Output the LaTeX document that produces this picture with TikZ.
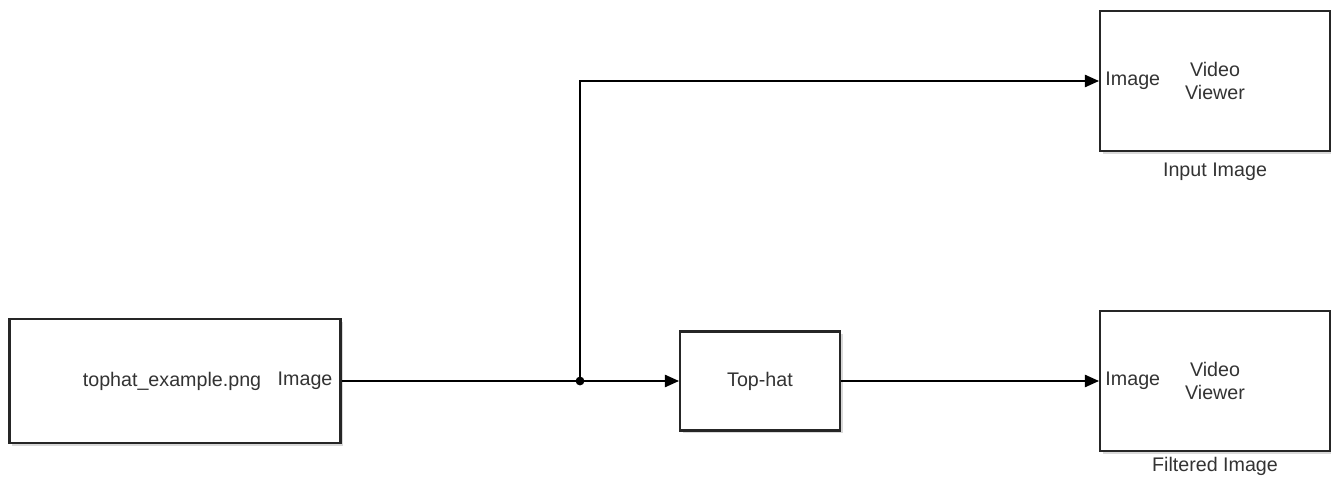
\documentclass[tikz,border=0pt]{standalone}
\usepackage{fontspec}
\setmainfont{Liberation Sans}
\usetikzlibrary{arrows.meta,positioning,shadows}
\definecolor{ink}{HTML}{333333}

\begin{document}
\begin{tikzpicture}[
  x=0.02cm, y=-0.02cm,
  font=\fontsize{11.2}{13}\selectfont,
  >={Triangle[length=8pt,width=7pt]},
  block/.style={draw=black!85,line width=1.2pt,fill=white,text=ink,
    inner sep=0pt,align=center,
    drop shadow={shadow xshift=1.5pt,shadow yshift=-1.5pt,opacity=0.3}},
  port/.style={text=ink,inner sep=0pt},
  wire/.style={line width=0.9pt,draw=black}
]
  \useasboundingbox (0,0) rectangle (1331,479);

  % blocks
  \node[block,minimum width=6.62cm,minimum height=2.48cm] (src) at (175,381) {};
  \node[port,anchor=east] (srcout) at ([xshift=-5pt]src.east) {Image};
  \node[port,anchor=east] (srcname) at ([xshift=-9pt]srcout.west) {tophat\_example.png};

  \node[block,minimum width=3.2cm,minimum height=1.98cm] (tophat) at (760,381)
    {Top-hat};

  \node[block,minimum width=4.6cm,minimum height=2.8cm] (viewin) at (1215,81)
    {Video\\Viewer};
  \node[port,anchor=west] (viewinport) at ([xshift=3.5pt]viewin.west) {Image};
  \node[port,below=6pt of viewin] (viewinlbl) {Input Image};

  \node[block,minimum width=4.6cm,minimum height=2.8cm] (viewout) at (1215,381)
    {Video\\Viewer};
  \node[port,anchor=west] (viewoutport) at ([xshift=3.5pt]viewout.west) {Image};
  \node[port,below=3pt of viewout] (viewoutlbl) {Filtered Image};

  % wires
  \coordinate (split) at (580,381);
  \draw[wire,->] (src.east) -- (tophat.west);
  \draw[wire,->] (split) |- (viewin.west);
  \draw[wire,->] (tophat.east) -- (viewout.west);
  \fill (split) circle (2.5pt);
\end{tikzpicture}
\end{document}
